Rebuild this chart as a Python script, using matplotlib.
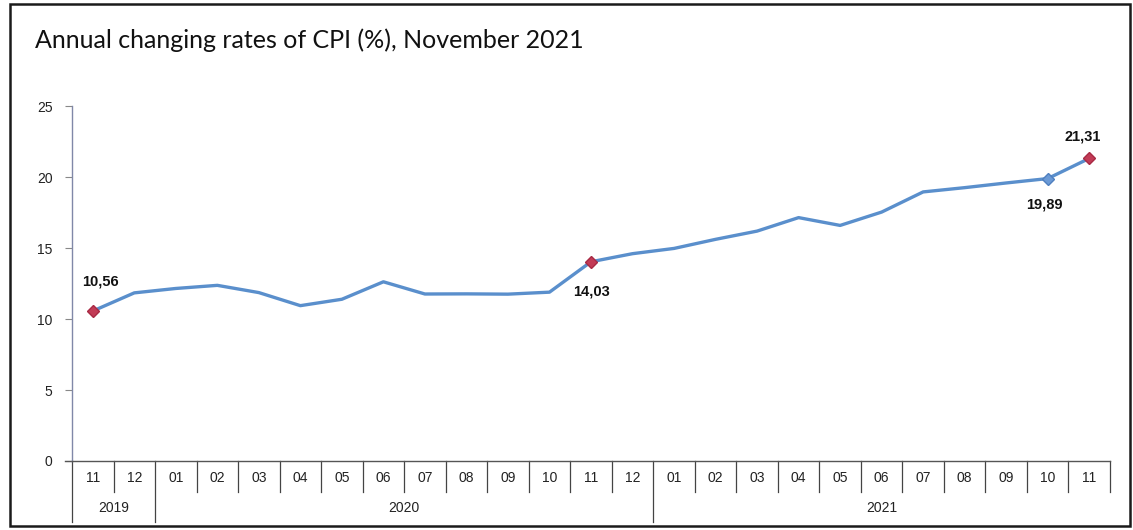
import matplotlib
matplotlib.use("Agg")
import matplotlib.pyplot as plt
from matplotlib.patches import Rectangle
from matplotlib.lines import Line2D

# ---- data ----
months = ["11", "12", "01", "02", "03", "04", "05", "06", "07", "08", "09", "10",
          "11", "12", "01", "02", "03", "04", "05", "06", "07", "08", "09", "10", "11"]
years = ["2019", "2020", "2021"]
year_counts = [2, 12, 11]
cpi = [10.56, 11.84, 12.15, 12.37, 11.86, 10.94, 11.39, 12.62, 11.76, 11.77, 11.75, 11.89,
       14.03, 14.60, 14.97, 15.61, 16.19, 17.14, 16.59, 17.53, 18.95, 19.25, 19.58, 19.89, 21.31]
labels = {0: "10,56", 12: "14,03", 23: "19,89", 24: "21,31"}
red_points = [0, 12, 24]
blue_points = [23]
yticks = [0, 5, 10, 15, 20, 25]
title = "Annual changing rates of CPI (%), November 2021"

W, H = 1133, 530
fig = plt.figure(figsize=(W / 100, H / 100), dpi=100)
fig.patch.set_facecolor("white")

# outer frame
fig.patches.append(Rectangle((10 / W, 4 / H), (1130 - 10) / W, (526 - 4) / H,
                             transform=fig.transFigure, fill=False,
                             edgecolor="#1a1a1a", linewidth=1.8))

fig.text(35 / W, 1 - 40 / H, title, fontsize=18, family="Lato", color="#111111",
         va="center", ha="left")

ax_l, ax_r, ax_b, ax_t = 72, 1110, 461, 106
ax = fig.add_axes([ax_l / W, 1 - ax_b / H, (ax_r - ax_l) / W, (ax_b - ax_t) / H])
axh = ax_b - ax_t

x = list(range(len(cpi)))
line_color = "#5a8fcc"
ax.plot(x, cpi, color=line_color, lw=2.4, solid_joinstyle="round", zorder=3)
ax.plot([x[i] for i in red_points], [cpi[i] for i in red_points], linestyle="none",
        marker="D", markersize=6.5, color="#c23b56", markeredgecolor="#a82a44", zorder=4)
ax.plot([x[i] for i in blue_points], [cpi[i] for i in blue_points], linestyle="none",
        marker="D", markersize=6.5, color="#6b9ad6", markeredgecolor="#4f7fbf", zorder=4)

offsets = {0: (8, 30), 12: (0, -30), 23: (-3, -26), 24: (-7, 22)}
for i, txt in labels.items():
    ax.annotate(txt, (x[i], cpi[i]), xytext=offsets[i], textcoords="offset pixels",
                ha="center", va="center", fontsize=10.5, fontweight="bold",
                family="Liberation Sans", color="#111111")

ax.set_xlim(-0.5, len(cpi) - 0.5)
ax.set_ylim(0, 25)
ax.set_yticks(yticks)
ax.set_yticklabels([str(v) for v in yticks], family="Liberation Sans", fontsize=10,
                   color="#222222")
ax.tick_params(axis="y", length=5, width=0.8, color="#888888", pad=9)
ax.set_xticks([])
for s in ["top", "right"]:
    ax.spines[s].set_visible(False)
ax.spines["left"].set_color("#8088a8")
ax.spines["left"].set_linewidth(1.0)
ax.spines["bottom"].set_color("#555555")
ax.spines["bottom"].set_linewidth(1.0)

# extend x-axis line to the left a bit
trans = ax.get_xaxis_transform()
ax.add_line(Line2D([-0.5 - 7 / 41.5, -0.5], [0, 0], transform=trans, color="#555555",
                   lw=1.0, clip_on=False))

# category table
short = -31 / axh
long_ = -61 / axh
year_bounds = [-0.5]
acc = -0.5
for c in year_counts:
    acc += c
    year_bounds.append(acc)
for k in range(len(cpi) + 1):
    b = k - 0.5
    if b in year_bounds[:-1]:
        y1 = long_
    else:
        y1 = short
    ax.add_line(Line2D([b, b], [0, y1], transform=trans, color="#444444", lw=0.9,
                       clip_on=False))
for i, m in enumerate(months):
    ax.text(i, -17 / axh, m, transform=trans, ha="center", va="center", fontsize=10,
            family="Liberation Sans", color="#222222")
start = -0.5
for yname, c in zip(years, year_counts):
    ax.text(start + c / 2, -47 / axh, yname, transform=trans, ha="center", va="center",
            fontsize=10, family="Liberation Sans", color="#222222")
    start += c

fig.savefig("out.png", dpi=100)
